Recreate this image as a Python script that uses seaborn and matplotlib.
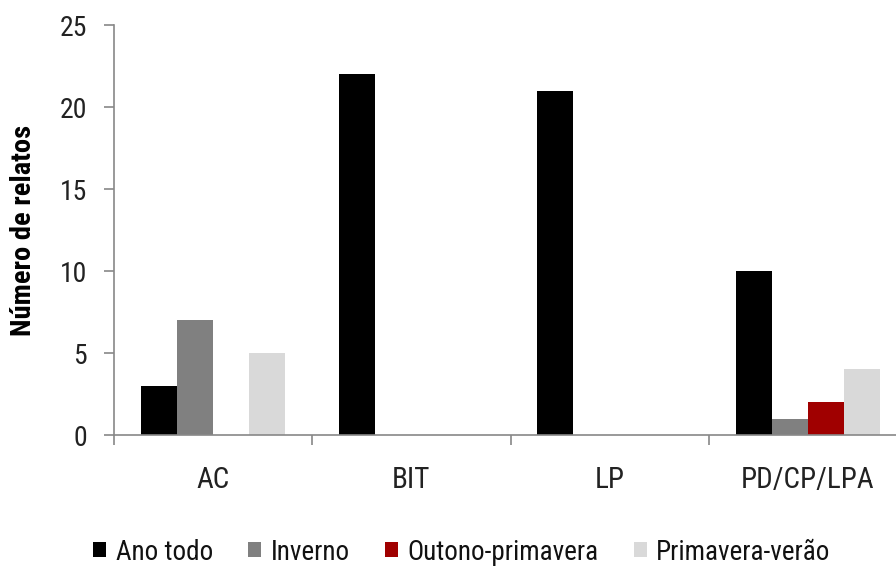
import matplotlib
matplotlib.use("Agg")
import matplotlib.pyplot as plt
import seaborn as sns
import pandas as pd
from matplotlib.patches import Patch
from matplotlib import font_manager

categories = ["AC", "BIT", "LP", "PD/CP/LPA"]
seasons = ["Ano todo", "Inverno", "Outono-primavera", "Primavera-verão"]
ano_todo = [3, 22, 21, 10]
inverno = [7, 0, 0, 1]
outono_primavera = [0, 0, 0, 2]
primavera_verao = [5, 0, 0, 4]
colors = ["#000000", "#808080", "#A00000", "#D9D9D9"]

values = [ano_todo, inverno, outono_primavera, primavera_verao]
rows = []
for s, vals in zip(seasons, values):
    for c, v in zip(categories, vals):
        rows.append({"categoria": c, "periodo": s, "relatos": v})
df = pd.DataFrame(rows)

sns.set_style("white")

# Prefer a narrow sans face; fall back to a regular one with smaller sizes.
fonts = font_manager.fontManager.ttflist
names = {f.name for f in fonts}
narrow = None
for cand in ["Liberation Sans Narrow", "Roboto Condensed", "Open Sans Condensed",
             "DejaVu Sans Condensed", "Noto Sans Condensed"]:
    if cand in names:
        narrow = (cand, "normal")
        break
if narrow is None:
    for fam in ["Roboto", "Noto Sans", "Open Sans", "DejaVu Sans"]:
        if any(f.name == fam and f.stretch in ("condensed", "semi-condensed")
               for f in fonts):
            narrow = (fam, "condensed")
            break

if narrow is not None:
    plt.rcParams["font.family"] = [narrow[0], "DejaVu Sans"]
    plt.rcParams["font.stretch"] = narrow[1]
    scale = 1.0
else:
    plt.rcParams["font.family"] = ["Liberation Sans", "DejaVu Sans"]
    scale = 0.82

fig = plt.figure(figsize=(8.96, 5.69), dpi=100)
ax = fig.add_axes([114 / 896, 134 / 569, 793 / 896, 410 / 569])

sns.barplot(data=df, x="categoria", y="relatos", hue="periodo",
            hue_order=seasons, order=categories, palette=colors,
            width=0.73, saturation=1, edgecolor="none", linewidth=0,
            legend=False, ax=ax)

ax.set_xlim(-0.5, 3.5)
ax.set_ylim(0, 25)
ax.set_yticks([0, 5, 10, 15, 20, 25])
ax.set_xlabel("")
ax.set_ylabel("Número de relatos", fontsize=20.5 * scale, fontweight="bold",
              color="black")
ax.yaxis.set_label_coords(-77 / 793, 0.5)

for side in ["top", "right"]:
    ax.spines[side].set_visible(False)
for side in ["left", "bottom"]:
    ax.spines[side].set_color("#888888")
    ax.spines[side].set_linewidth(1.2)

ax.tick_params(axis="y", which="major", left=True, length=7.5, width=1.2,
               color="#888888", labelsize=20 * scale, labelcolor="#222222", pad=12)
ax.tick_params(axis="x", which="major", bottom=False, length=0, labelsize=21 * scale,
               labelcolor="#222222", pad=22)
ax.set_xticks([-0.5, 0.5, 1.5, 2.5, 3.5], minor=True)
ax.tick_params(axis="x", which="minor", bottom=True, length=7, width=1.2,
               color="#888888")

handles = [Patch(facecolor=c, edgecolor="none") for c in colors]
fig.legend(handles, seasons, loc="center", bbox_to_anchor=(462 / 896, 1 - 552 / 569),
           ncol=4, frameon=False, fontsize=19.5 * scale, handlelength=0.47,
           handleheight=0.47, handletextpad=0.36, columnspacing=1.3,
           borderpad=0, labelcolor="#111111")

fig.savefig("out.png", dpi=100)
